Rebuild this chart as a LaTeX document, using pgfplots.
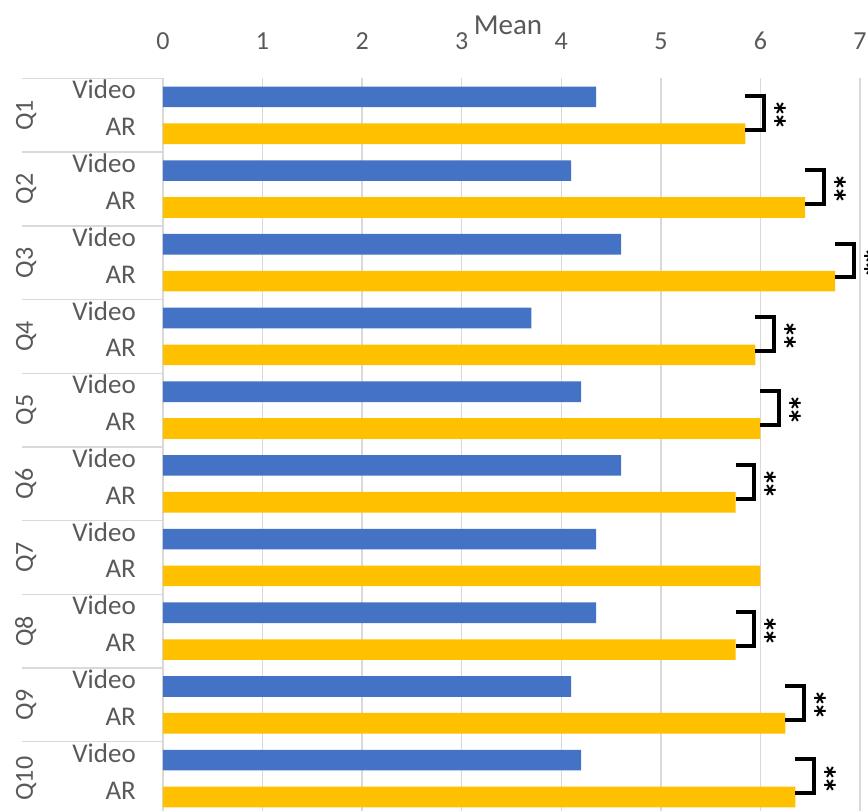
\documentclass[border=0pt]{standalone}
\usepackage{fontspec}
\setmainfont{Carlito}
\usepackage{pgfplots}
\pgfplotsset{compat=1.18}
\definecolor{vblue}{HTML}{4472C4}
\definecolor{aryel}{HTML}{FFC000}
\definecolor{txt}{HTML}{595959}
\definecolor{gridc}{HTML}{D9D9D9}
\newcommand{\sig}[5]{%
  \draw[line width=4pt, miter limit=10] (axis cs:#1,#3) -- (axis cs:#2,#3) -- (axis cs:#2,#4) -- (axis cs:#1,#4);
  \node[rotate=-90, anchor=base, inner sep=0pt, font=\fontsize{36}{36}\selectfont\bfseries] at ([xshift=15pt]axis cs:#1,#5) {*\kern-5pt*};
}
\begin{document}
\begin{tikzpicture}
\begin{axis}[name=ax, at={(0,0)}, anchor=south west,
  scale only axis, width=697pt, height=732.5pt,
  xmin=0, xmax=7, ymin=0.5, ymax=10.44, y dir=reverse, clip=false,
  axis line style={draw=none},
  /pgf/number format/assume math mode=true,
  xtick={0,1,...,7}, xticklabel pos=upper, xtick style={draw=none},
  xmajorgrids, major grid style={draw=gridc, line width=1.5pt},
  xticklabel style={anchor=base, yshift=29pt, inner sep=0pt, font=\fontsize{26}{30}\selectfont, text=txt},
  ytick={0.75,1.25,...,10.25}, ytick style={draw=none},
  yticklabels={Video,AR,Video,AR,Video,AR,Video,AR,Video,AR,Video,AR,Video,AR,Video,AR,Video,AR,Video,AR},
  yticklabel style={anchor=base east, xshift=-27pt, yshift=-2pt, inner sep=0pt, font=\fontsize{27}{30}\selectfont, text=txt},
]
\pgfplotsinvokeforeach{0.5,1.5,...,9.5}{
  \draw[draw=gridc, line width=1.5pt] ([xshift=-141pt]axis cs:0,#1) -- (axis cs:0,#1);
}
\draw[draw=gridc, line width=1.5pt] (axis cs:0,0.5) -- (axis cs:0,10.44);
\addplot[xbar, bar shift=0pt, bar width=0.28, fill=vblue, draw=none] coordinates {
  (4.35,0.75) (4.1,1.75) (4.6,2.75) (3.7,3.75) (4.2,4.75)
  (4.6,5.75) (4.35,6.75) (4.35,7.75) (4.1,8.75) (4.2,9.75)};
\addplot[xbar, bar shift=0pt, bar width=0.28, fill=aryel, draw=none] coordinates {
  (5.85,1.25) (6.45,2.25) (6.75,3.25) (5.95,4.25) (6.0,5.25)
  (5.75,6.25) (6.0,7.25) (5.75,8.25) (6.25,9.25) (6.35,10.25)};
\sig{5.85}{6.035}{0.74}{1.20}{1}
\sig{6.45}{6.635}{1.74}{2.20}{2}
\sig{6.75}{6.935}{2.74}{3.20}{3}
\sig{5.95}{6.135}{3.74}{4.20}{4}
\sig{6.0}{6.185}{4.74}{5.20}{5}
\sig{5.75}{5.935}{5.74}{6.20}{6}
\sig{5.75}{5.935}{7.74}{8.20}{8}
\sig{6.25}{6.435}{8.74}{9.20}{9}
\sig{6.35}{6.535}{9.74}{10.20}{10}
\pgfplotsinvokeforeach{1,...,10}{
  \node[rotate=90, anchor=base, inner sep=0pt, font=\fontsize{26}{30}\selectfont, text=txt] at ([xshift=-130pt]axis cs:0,#1) {Q#1};
}
\node[anchor=base, inner sep=0pt, font=\fontsize{29}{32}\selectfont, text=txt] at ([yshift=44pt]axis cs:3.465,0.5) {Mean};
\end{axis}
\pgfresetboundingbox
\path[use as bounding box] ([xshift=-163pt]ax.south west) rectangle ([xshift=8pt,yshift=78.5pt]ax.north east);
\end{tikzpicture}
\end{document}
